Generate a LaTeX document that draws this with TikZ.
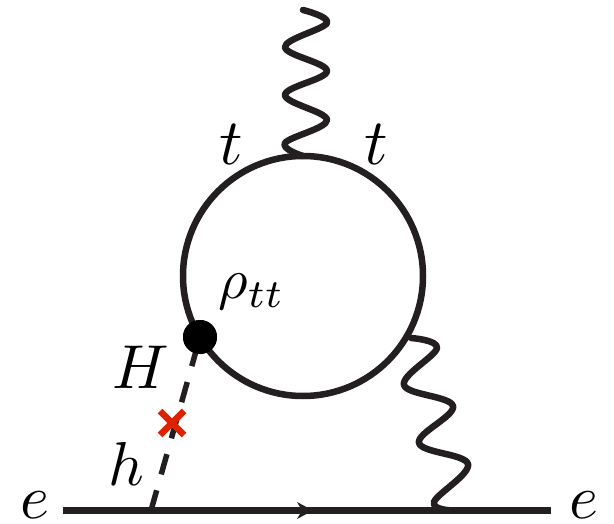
\documentclass[tikz,border=0pt]{standalone}
\usetikzlibrary{arrows.meta}
\definecolor{ink}{HTML}{231F20}
\definecolor{crossred}{HTML}{DD2200}
\tikzset{
  lbl/.style={inner sep=0pt,scale=6.2,text=black},
  line/.style={draw=ink,line width=6.5pt},
  wavy/.style={draw=ink,line width=6.5pt,line cap=round,line join=round},
  scalar/.style={draw=ink,line width=5.5pt,dash pattern=on 21pt off 16.5pt},
  loopnode/.style={circle,draw=ink,line width=6.5pt,minimum size=240pt,inner sep=0pt,outer sep=0pt},
  dotnode/.style={circle,fill=black,minimum size=34pt,inner sep=0pt,outer sep=0pt},
}
\begin{document}
\begin{tikzpicture}[x=1pt,y=-1pt]
\useasboundingbox[fill=white] (0,0) rectangle (614,524);
\coordinate (eL) at (63,510.5);
\coordinate (eR) at (551,510.5);
\coordinate (eH) at (151,510.5);
\coordinate (eW) at (453,510.5);
\coordinate (arrowpt) at (313,510.5);
\coordinate (top) at (303,10);
\coordinate (loopTop) at (303,156);
\coordinate (loopBR) at (411,338);
\node[loopnode] (loop) at (303,276) {};
% fermion line
\draw[line] (eL) -- (eR);
\draw[draw=none,fill=ink] (arrowpt) -- (297,502) -- (302,510.5) -- (297,519) -- cycle;
% scalar
\node[dotnode] (dot) at (200,337) {};
\draw[scalar] (eH) -- (dot.center);
\node[dotnode] at (dot) {};
% wavy lines
\draw[wavy] plot[smooth,tension=0.62] coordinates {(top) (327,23) (285,47) (327,71) (285,95) (327,120) (285,143) (loopTop)};
\draw[wavy] plot[smooth,tension=0.62] coordinates {(loopBR) (437,348) (404,385) (453,406) (419,443) (468,464) (434,502) (eW)};
% cross
\draw[crossred,line width=6.5pt] (160,411) -- (184,435) (184,411) -- (160,435);
% labels
\node[lbl,scale=1.05] (lt1) at (231.5,144) {$t$};
\node[lbl,scale=1.05] (lt2) at (376.5,144) {$t$};
\node[lbl,scale=0.92] (lrho) at (251.5,292) {$\rho_{tt}$};
\node[lbl] (lH) at (141,367) {$H$};
\node[lbl] (lh) at (126,463.5) {$h$};
\node[lbl] (le1) at (34.5,505) {$e$};
\node[lbl] (le2) at (584,505) {$e$};
\end{tikzpicture}
\end{document}
